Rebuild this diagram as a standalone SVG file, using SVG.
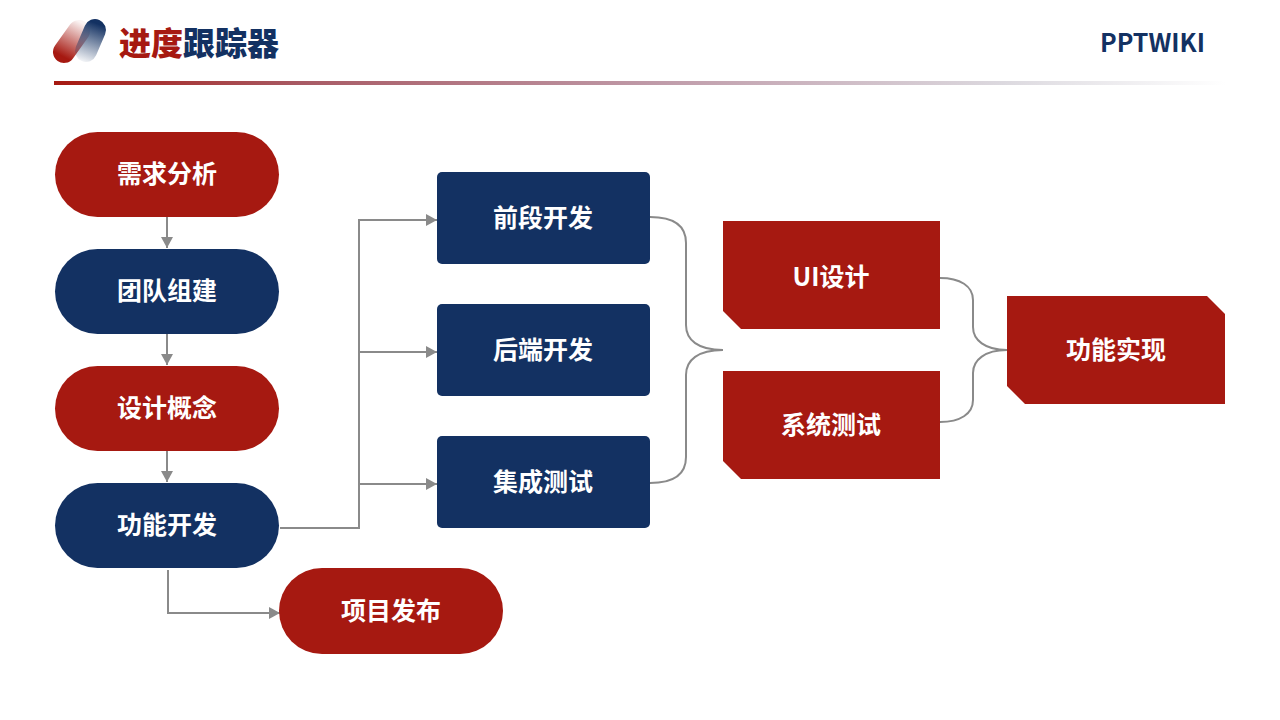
<svg xmlns="http://www.w3.org/2000/svg" width="1280" height="720" viewBox="0 0 1280 720">
<style>
.t{font-family:"Noto Sans CJK SC","Noto Sans",sans-serif;font-weight:700;font-size:25px;fill:#fff;text-anchor:middle;dominant-baseline:central}
.r{fill:#a61911}.b{fill:#133162}
.c{fill:none;stroke:#8a8a8a;stroke-width:2}
.a{marker-end:url(#ah)}
</style>
<defs>
<marker id="ah" markerUnits="userSpaceOnUse" markerWidth="12" markerHeight="12" refX="11" refY="6" orient="auto"><path d="M0 0L11 6L0 12Z" fill="#8a8a8a"/></marker>
<linearGradient id="rule" x1="0" x2="1" y1="0" y2="0"><stop offset="0" stop-color="#a61911"/><stop offset="0.21" stop-color="#a85a64"/><stop offset="0.51" stop-color="#bf9aa8"/><stop offset="0.81" stop-color="#dcd9df"/><stop offset="1" stop-color="#ffffff"/></linearGradient>
<linearGradient id="lr" gradientUnits="userSpaceOnUse" x1="62" y1="56" x2="80" y2="22"><stop offset="0" stop-color="#a61911"/><stop offset="1" stop-color="#a61911" stop-opacity="0.05"/></linearGradient>
<linearGradient id="lb" gradientUnits="userSpaceOnUse" x1="98" y1="24" x2="84" y2="62"><stop offset="0" stop-color="#133162"/><stop offset="1" stop-color="#133162" stop-opacity="0.05"/></linearGradient>
</defs>
<rect width="1280" height="720" fill="#fff"/>
<g id="header">
<line x1="64" y1="52" x2="79" y2="31" stroke="url(#lr)" stroke-width="22" stroke-linecap="round"/>
<line x1="95" y1="30" x2="86" y2="51" stroke="url(#lb)" stroke-width="22" stroke-linecap="round"/>
<text x="119" y="41" font-family="Noto Sans CJK SC,sans-serif" font-weight="900" font-size="32" dominant-baseline="central"><tspan fill="#a61911">进度</tspan><tspan fill="#133162">跟踪器</tspan></text>
<text x="1205" y="41" font-family="Noto Sans CJK SC,Noto Sans,sans-serif" font-weight="700" font-size="25" fill="#133162" text-anchor="end" dominant-baseline="central">PPTWIKI</text>
<rect x="54" y="81" width="1172" height="4" fill="url(#rule)"/>
</g>
<g id="connectors">
<path class="c a" d="M167 217V248"/>
<path class="c a" d="M167 334V365"/>
<path class="c a" d="M167 451V482"/>
<path class="c a" d="M168 570V613H280"/>
<path class="c a" d="M280 528H359V220H437"/>
<path class="c a" d="M359 352H437"/>
<path class="c a" d="M359 484H437"/>
<path class="c" d="M650 217C674 217 686 226 686 243V325C686 340 698 350 723 350"/>
<path class="c" d="M650 483C674 483 686 474 686 457V375C686 360 698 350 723 350"/>
<path class="c" d="M940 278C960 278 973 286 973 300V327C973 340 985 350 1007 350"/>
<path class="c" d="M940 422C960 422 973 414 973 400V373C973 360 985 350 1007 350"/>
</g>
<g id="n1"><rect class="r" x="55" y="132" width="224" height="85" rx="42.5"/><text class="t" x="167" y="172">需求分析</text></g>
<g id="n2"><rect class="b" x="55" y="249" width="224" height="85" rx="42.5"/><text class="t" x="167" y="289">团队组建</text></g>
<g id="n3"><rect class="r" x="55" y="366" width="224" height="85" rx="42.5"/><text class="t" x="167" y="406">设计概念</text></g>
<g id="n4"><rect class="b" x="55" y="483" width="224" height="85" rx="42.5"/><text class="t" x="167" y="523">功能开发</text></g>
<g id="n5"><rect class="r" x="279" y="568" width="224" height="86" rx="43"/><text class="t" x="391" y="609">项目发布</text></g>
<g id="n6"><rect class="b" x="437" y="172" width="213" height="92" rx="5"/><text class="t" x="543" y="216">前段开发</text></g>
<g id="n7"><rect class="b" x="437" y="304" width="213" height="92" rx="5"/><text class="t" x="543" y="348">后端开发</text></g>
<g id="n8"><rect class="b" x="437" y="436" width="213" height="92" rx="5"/><text class="t" x="543" y="480">集成测试</text></g>
<g id="n9"><path class="r" d="M723 221H940V329H741L723 311Z"/><text class="t" x="831" y="275">UI设计</text></g>
<g id="n10"><path class="r" d="M723 371H940V479H741L723 461Z"/><text class="t" x="831" y="423">系统测试</text></g>
<g id="n11"><path class="r" d="M1007 296H1207L1225 314V404H1025L1007 386Z"/><text class="t" x="1116" y="348">功能实现</text></g>
</svg>
